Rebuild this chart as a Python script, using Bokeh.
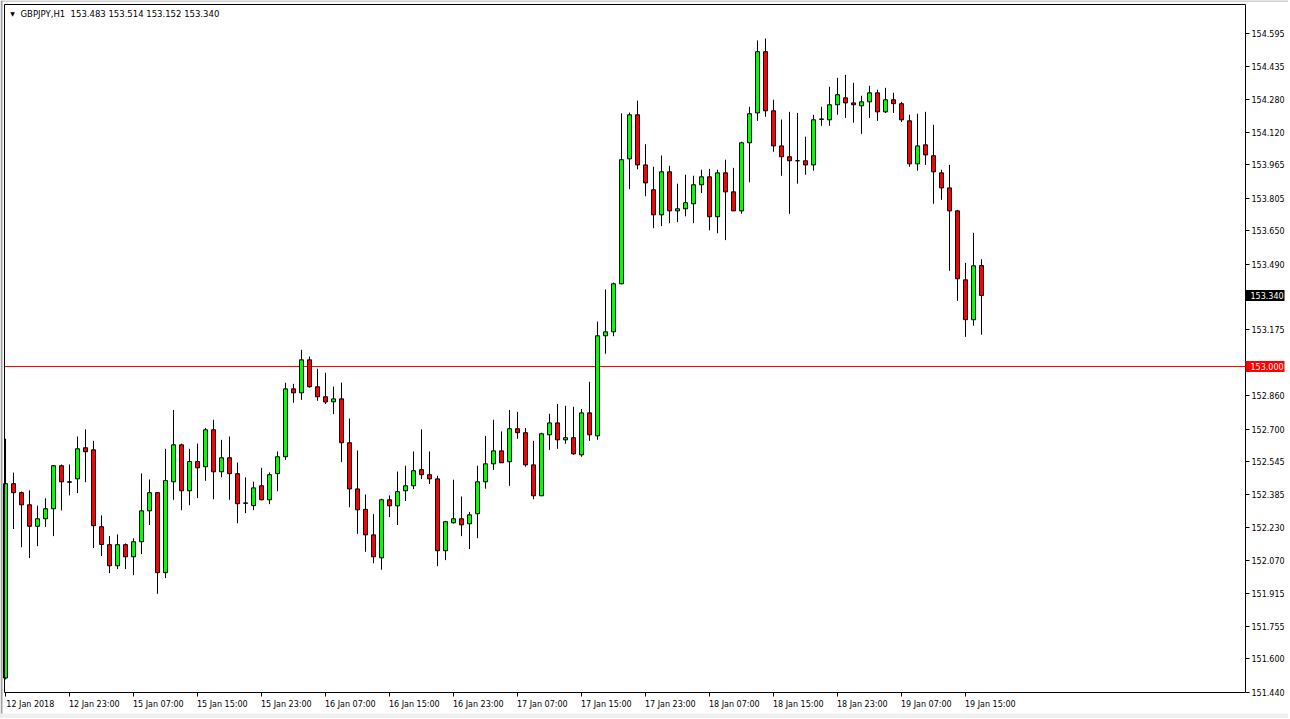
from bokeh.plotting import figure
from bokeh.models import (Range1d, FixedTicker, PrintfTickFormatter, Label,
                          LinearAxis, ColumnDataSource, BoxAnnotation)
from bokeh.embed import file_html
from bokeh.resources import INLINE

symbol = "GBPJPY,H1"

opens = [151.509, 152.439, 152.396, 152.338, 152.235, 152.271, 152.319, 152.525, 152.448, 152.462,
         152.611, 152.601, 152.233, 152.147, 152.046, 152.147, 152.089, 152.161, 152.309, 152.396,
         152.013, 152.448, 152.625, 152.405, 152.545, 152.520, 152.697, 152.496, 152.563, 152.487,
         152.347, 152.334, 152.429, 152.362, 152.487, 152.568, 152.893, 152.874, 153.032, 152.903,
         152.855, 152.831, 152.845, 152.635, 152.414, 152.316, 152.194, 152.084, 152.362, 152.333,
         152.405, 152.429, 152.506, 152.482, 152.462, 152.118, 152.252, 152.271, 152.247, 152.295,
         152.448, 152.534, 152.596, 152.544, 152.702, 152.683, 152.529, 152.381, 152.673, 152.730,
         152.649, 152.659, 152.577, 152.778, 152.668, 153.147, 153.166, 153.396, 153.994, 154.205,
         153.965, 153.846, 153.726, 153.932, 153.745, 153.755, 153.779, 153.870, 153.908, 153.717,
         153.927, 153.836, 153.745, 154.071, 154.214, 154.507, 154.224, 154.056, 154.004, 153.985,
         153.985, 153.965, 154.183, 154.181, 154.253, 154.286, 154.262, 154.248, 154.267, 154.310,
         154.219, 154.277, 154.258, 154.176, 153.970, 154.061, 154.009, 153.927, 153.855, 153.745,
         153.415, 153.224, 153.483]

highs = [152.654, 152.492, 152.401, 152.407, 152.334, 152.369, 152.527, 152.531, 152.531, 152.665,
         152.699, 152.644, 152.287, 152.188, 152.196, 152.153, 152.177, 152.488, 152.459, 152.398,
         152.606, 152.792, 152.631, 152.606, 152.631, 152.706, 152.745, 152.649, 152.665, 152.540,
         152.469, 152.449, 152.515, 152.493, 152.593, 152.922, 152.917, 153.080, 153.048, 152.989,
         152.970, 152.904, 152.923, 152.751, 152.598, 152.387, 152.293, 152.367, 152.383, 152.497,
         152.525, 152.593, 152.699, 152.593, 152.477, 152.261, 152.458, 152.378, 152.304, 152.525,
         152.668, 152.745, 152.689, 152.792, 152.783, 152.706, 152.644, 152.683, 152.774, 152.821,
         152.812, 152.807, 152.797, 152.927, 153.215, 153.369, 153.402, 154.212, 154.216, 154.273,
         154.064, 153.956, 154.010, 153.961, 153.875, 153.918, 153.913, 153.942, 153.946, 153.942,
         153.990, 153.951, 154.076, 154.243, 154.561, 154.570, 154.277, 154.182, 154.219, 154.214,
         154.100, 154.205, 154.243, 154.339, 154.382, 154.396, 154.358, 154.296, 154.344, 154.325,
         154.334, 154.310, 154.267, 154.205, 154.210, 154.219, 154.157, 153.942, 153.965, 153.750,
         153.496, 153.640, 153.514]

lows = [151.502, 152.222, 152.135, 152.083, 152.140, 152.232, 152.188, 152.311, 152.383, 152.394,
        152.446, 152.131, 152.093, 152.011, 152.030, 152.030, 152.001, 152.102, 152.241, 151.912,
        151.987, 152.362, 152.312, 152.336, 152.370, 152.453, 152.365, 152.470, 152.362, 152.250,
        152.298, 152.312, 152.359, 152.341, 152.403, 152.553, 152.826, 152.840, 152.899, 152.836,
        152.820, 152.772, 152.542, 152.326, 152.199, 152.113, 152.058, 152.027, 152.279, 152.241,
        152.356, 152.413, 152.461, 152.437, 152.044, 152.073, 152.248, 152.188, 152.126, 152.178,
        152.415, 152.504, 152.538, 152.429, 152.654, 152.520, 152.365, 152.380, 152.601, 152.606,
        152.630, 152.577, 152.568, 152.644, 152.649, 153.061, 153.145, 153.393, 153.849, 153.944,
        153.815, 153.662, 153.672, 153.686, 153.691, 153.719, 153.686, 153.830, 153.652, 153.638,
        153.605, 153.744, 153.731, 153.882, 154.176, 154.195, 154.028, 153.913, 153.731, 153.875,
        153.918, 153.937, 154.152, 154.152, 154.205, 154.190, 154.167, 154.114, 154.190, 154.176,
        154.214, 154.214, 154.171, 153.956, 153.937, 153.965, 153.779, 153.798, 153.458, 153.314,
        153.142, 153.195, 153.152]

closes = [152.439, 152.396, 152.338, 152.235, 152.271, 152.319, 152.525, 152.448, 152.446, 152.606,
          152.592, 152.238, 152.148, 152.046, 152.147, 152.089, 152.161, 152.309, 152.396, 152.013,
          152.454, 152.625, 152.405, 152.545, 152.515, 152.697, 152.496, 152.563, 152.487, 152.343,
          152.345, 152.419, 152.362, 152.482, 152.568, 152.893, 152.874, 153.032, 152.903, 152.855,
          152.830, 152.845, 152.635, 152.414, 152.314, 152.194, 152.089, 152.362, 152.333, 152.401,
          152.429, 152.501, 152.482, 152.462, 152.118, 152.257, 152.271, 152.242, 152.290, 152.448,
          152.534, 152.596, 152.539, 152.702, 152.683, 152.529, 152.381, 152.678, 152.730, 152.649,
          152.659, 152.582, 152.778, 152.673, 153.147, 153.166, 153.396, 153.990, 154.205, 153.965,
          153.879, 153.726, 153.932, 153.745, 153.755, 153.784, 153.870, 153.908, 153.717, 153.927,
          153.836, 153.745, 154.071, 154.210, 154.507, 154.224, 154.056, 154.004, 153.985, 153.985,
          153.965, 154.181, 154.185, 154.253, 154.301, 154.262, 154.253, 154.267, 154.310, 154.219,
          154.277, 154.258, 154.181, 153.970, 154.056, 154.013, 153.932, 153.855, 153.745, 153.420,
          153.224, 153.482, 153.340]

# time-axis labels: one every 8 hourly bars, bar index of each label
tick_bars = [0, 8, 16, 24, 32, 40, 48, 56, 64, 72, 80, 88, 96, 104, 112, 120]
tick_labels = ["12 Jan 2018", "12 Jan 23:00", "15 Jan 07:00", "15 Jan 15:00", "15 Jan 23:00",
               "16 Jan 07:00", "16 Jan 15:00", "16 Jan 23:00", "17 Jan 07:00", "17 Jan 15:00",
               "17 Jan 23:00", "18 Jan 07:00", "18 Jan 15:00", "18 Jan 23:00", "19 Jan 07:00",
               "19 Jan 15:00"]

price_ticks = [151.440, 151.600, 151.755, 151.915, 152.070, 152.230, 152.385, 152.545, 152.700,
               152.860, 153.175, 153.490, 153.650, 153.805, 153.965, 154.120, 154.280, 154.435,
               154.595]

level_price = 153.000

# ---- layout (pixels of the MT4 window) ----
FONT = "DejaVu Sans"
FS = "8px"
FIG_W, FIG_H = 1288, 718
BAR_PX = 8                 # one hourly bar every 8 px
FIRST_BAR_PX = 5           # x pixel of bar 0
PX_Y = 0.0047872           # price per pixel
TOP_PRICE = 154.7521       # price at the window's top pixel row
BOX_L, BOX_R, BOX_T, BOX_B = 4, 1245, 4, 692   # chart box in window pixels
LABEL_SHIFT = 3.1          # bars: MT4 writes each time label starting at its tick

x_start = -FIRST_BAR_PX / BAR_PX
x_end = x_start + FIG_W / BAR_PX
y_end = TOP_PRICE
y_start = TOP_PRICE - FIG_H * PX_Y

box_left = x_start + BOX_L / BAR_PX
box_right = x_start + BOX_R / BAR_PX
box_top = TOP_PRICE - BOX_T * PX_Y
box_bottom = TOP_PRICE - BOX_B * PX_Y

idx = list(range(len(opens)))
tops = [max(o, c) for o, c in zip(opens, closes)]
bots = [min(o, c) for o, c in zip(opens, closes)]
cols = ["#00FF00" if c >= o else "#FF0000" for o, c in zip(opens, closes)]
src = ColumnDataSource(dict(x=idx, o=opens, h=highs, l=lows, c=closes, top=tops, bot=bots, col=cols))

p = figure(width=FIG_W, height=FIG_H,
           x_range=Range1d(x_start, x_end), y_range=Range1d(y_start, y_end),
           output_backend="svg", toolbar_location=None,
           x_axis_location=None, y_axis_location=None,
           min_border_left=0, min_border_top=0, min_border_right=0, min_border_bottom=0,
           background_fill_color="white", border_fill_color="white",
           outline_line_color=None)
p.xgrid.visible = False
p.ygrid.visible = False

# window chrome
p.add_layout(BoxAnnotation(left=0, right=2, left_units="screen", right_units="screen",
                           fill_color="#A0A0A0", fill_alpha=1, line_color=None))
p.add_layout(BoxAnnotation(top=FIG_H, bottom=FIG_H - 1, top_units="screen", bottom_units="screen",
                           fill_color="#A0A0A0", fill_alpha=1, line_color=None))
p.add_layout(BoxAnnotation(top=FIG_H - 713, bottom=0, top_units="screen", bottom_units="screen",
                           fill_color="#F0F0F0", fill_alpha=1, line_color=None))

# chart box
p.add_layout(BoxAnnotation(left=box_left, right=box_right, top=box_top, bottom=box_bottom,
                           fill_color=None, fill_alpha=0, line_color="black", line_width=1,
                           line_alpha=1))

# price scale on the right edge of the chart box
yax = LinearAxis(ticker=FixedTicker(ticks=price_ticks),
                 formatter=PrintfTickFormatter(format="%.3f"),
                 fixed_location=box_right, axis_line_color=None,
                 major_tick_out=4, major_tick_in=0, minor_tick_line_color=None,
                 major_tick_line_color="black", major_label_standoff=2,
                 major_label_text_font=FONT, major_label_text_font_size=FS,
                 major_label_text_color="black")
p.add_layout(yax, "right")

# time scale: tick marks at the label bars
xax = LinearAxis(ticker=FixedTicker(ticks=tick_bars), fixed_location=box_bottom,
                 axis_line_color=None, major_tick_out=4, major_tick_in=0,
                 minor_tick_line_color=None, major_tick_line_color="black",
                 major_label_standoff=0, major_label_text_font_size="0px",
                 major_label_text_alpha=0)
p.add_layout(xax, "below")

# time labels, written to the right of each tick
shifted = [b + LABEL_SHIFT for b in tick_bars]
tax = LinearAxis(ticker=FixedTicker(ticks=shifted),
                 major_label_overrides={s: t for s, t in zip(shifted, tick_labels)},
                 fixed_location=box_bottom, axis_line_color=None,
                 major_tick_line_color=None, minor_tick_line_color=None,
                 major_tick_out=0, major_tick_in=0, major_label_standoff=7,
                 major_label_text_font=FONT, major_label_text_font_size=FS,
                 major_label_text_color="black")
p.add_layout(tax, "below")

# level line and candles
p.segment(x0=[box_left], y0=[level_price], x1=[box_right], y1=[level_price],
          line_color="#FF0000", line_width=1)
p.segment(x0="x", y0="l", x1="x", y1="h", source=src, line_color="black", line_width=1)
p.vbar(x="x", width=0.5, top="top", bottom="bot", source=src,
       fill_color="col", line_color="black", line_width=1)

# price tags on the scale
TAG_W_PX, TAG_H_PX = 39, 11
for price, bg in [(level_price, "#FF0000"), (closes[-1], "#000000")]:
    p.add_layout(BoxAnnotation(left=box_right, right=box_right + TAG_W_PX / BAR_PX,
                               bottom=price - TAG_H_PX / 2 * PX_Y, top=price + TAG_H_PX / 2 * PX_Y,
                               fill_color=bg, fill_alpha=1, line_color=None))
    p.add_layout(Label(x=box_right, y=price, x_offset=5, text=f"{price:.3f}",
                       text_color="white", text_font=FONT, text_font_size=FS,
                       text_align="left", text_baseline="middle"))

# header
p.add_layout(Label(x=12, y=FIG_H - 13, x_units="screen", y_units="screen", text="\u25bc",
                   text_color="black", text_font=FONT, text_font_size="6px",
                   text_align="center", text_baseline="middle"))
header = f"{symbol}\u00a0 {opens[-1]:.3f} {highs[-1]:.3f} {lows[-1]:.3f} {closes[-1]:.3f}"
p.add_layout(Label(x=20, y=FIG_H - 13, x_units="screen", y_units="screen", text=header,
                   text_color="black", text_font=FONT, text_font_size="8.5px",
                   text_align="left", text_baseline="middle"))

open("out.html", "w").write(file_html(p, INLINE))
